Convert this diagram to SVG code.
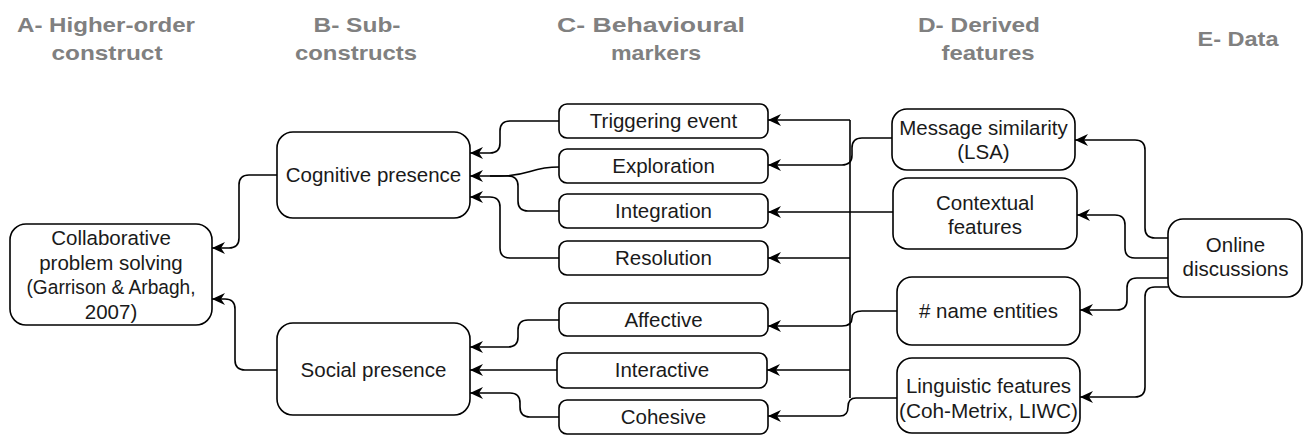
<svg xmlns="http://www.w3.org/2000/svg" width="1304" height="435" viewBox="0 0 1304 435">
<style>
.bg{fill:#ffffff}
.box{fill:#ffffff;stroke:#000000;stroke-width:1.6}
.t{font-family:"Liberation Sans",Arial,sans-serif;font-size:20.5px;fill:#1a1a1a;text-anchor:middle}
.h{font-family:"Liberation Sans",Arial,sans-serif;font-size:21px;font-weight:bold;fill:#808080;text-anchor:middle}
.c{fill:none;stroke:#000000;stroke-width:1.6}
.a{marker-end:url(#arr)}
</style>
<defs>
<marker id="arr" markerUnits="userSpaceOnUse" markerWidth="16" markerHeight="14" refX="13" refY="6" orient="auto">
<path d="M0,0 L13,6 L0,12 L4,6 Z" fill="#000000"/>
</marker>
</defs>
<rect class="bg" x="0" y="0" width="1304" height="435"/>
<g id="headers">
<text class="h" x="106" y="32" textLength="178" lengthAdjust="spacingAndGlyphs">A- Higher-order</text>
<text class="h" x="107" y="60" textLength="111" lengthAdjust="spacingAndGlyphs">construct</text>
<text class="h" x="357" y="32" textLength="87" lengthAdjust="spacingAndGlyphs">B- Sub-</text>
<text class="h" x="356" y="60" textLength="122" lengthAdjust="spacingAndGlyphs">constructs</text>
<text class="h" x="651" y="32" textLength="188" lengthAdjust="spacingAndGlyphs">C-  Behavioural</text>
<text class="h" x="656" y="60" textLength="90" lengthAdjust="spacingAndGlyphs">markers</text>
<text class="h" x="979" y="32" textLength="122" lengthAdjust="spacingAndGlyphs">D- Derived</text>
<text class="h" x="988" y="60" textLength="93" lengthAdjust="spacingAndGlyphs">features</text>
<text class="h" x="1238" y="46" textLength="81" lengthAdjust="spacingAndGlyphs">E- Data</text>
</g>
<g id="connectors">
<path class="c a" d="M277,175 H249 Q239,175 239,185 V238 Q239,248 229,248 H212"/>
<path class="c a" d="M277,370 H245 Q235,370 235,360 V309 Q235,299 225,299 H212"/>
<path class="c a" d="M559,121 H510 Q500,121 500,131 V143 Q500,153 490,153 H470"/>
<path class="c a" d="M559,167 C530,167 530,176 500,176 H470"/>
<path class="c" d="M559,211 H528 Q518,211 518,201 V186 Q518,176 508,176 H490"/>
<path class="c a" d="M559,258 H510 Q500,258 500,248 V207 Q500,197 490,197 H470"/>
<path class="c a" d="M559,320 H528 Q518,320 518,330 V337 Q518,347 508,347 H470"/>
<path class="c a" d="M557,370 H470"/>
<path class="c a" d="M559,417 H530 Q520,417 520,407 V403 Q520,393 510,393 H470"/>
<path class="c" d="M850,120 V398"/>
<path class="c a" d="M850,120 H768"/>
<path class="c a" d="M850,258 H768"/>
<path class="c a" d="M850,370 H767"/>
<path class="c a" d="M893,138 H862 Q852,138 852,148 V155 Q852,165 842,165 H768"/>
<path class="c a" d="M893,212 H768"/>
<path class="c a" d="M897,311 H862 Q852,311 852,318 Q852,326 842,326 H768"/>
<path class="c a" d="M897,398 H856 Q848,398 848,407 Q848,416 840,416 H768"/>
<path class="c a" d="M1168,238 H1155 Q1145,238 1145,228 V150 Q1145,140 1135,140 H1075"/>
<path class="c a" d="M1168,258 H1135 Q1125,258 1125,248 V225 Q1125,215 1115,215 H1077"/>
<path class="c a" d="M1168,278 H1137 Q1127,278 1127,288 V300 Q1127,310 1117,310 H1080"/>
<path class="c a" d="M1168,287 H1155 Q1145,287 1145,297 V387 Q1145,397 1135,397 H1080"/>
</g>
<g id="collab">
<rect class="box" x="10" y="224" width="202" height="101" rx="16"/>
<text class="t" x="111" y="245">Collaborative</text>
<text class="t" x="111" y="270">problem solving</text>
<text class="t" x="111" y="294" textLength="169" lengthAdjust="spacingAndGlyphs">(Garrison &amp; Arbagh,</text>
<text class="t" x="111" y="319">2007)</text>
</g>
<g id="cognitive">
<rect class="box" x="277" y="132" width="193" height="86" rx="16"/>
<text class="t" x="373.5" y="182">Cognitive presence</text>
</g>
<g id="social">
<rect class="box" x="277" y="323" width="193" height="92" rx="16"/>
<text class="t" x="373.5" y="377">Social presence</text>
</g>
<g id="triggering">
<rect class="box" x="559" y="104" width="209" height="34" rx="8"/>
<text class="t" x="663.5" y="128">Triggering event</text>
</g>
<g id="exploration">
<rect class="box" x="559" y="149" width="209" height="34" rx="8"/>
<text class="t" x="663.5" y="173">Exploration</text>
</g>
<g id="integration">
<rect class="box" x="559" y="194" width="209" height="34" rx="8"/>
<text class="t" x="663.5" y="218">Integration</text>
</g>
<g id="resolution">
<rect class="box" x="559" y="241" width="209" height="34" rx="8"/>
<text class="t" x="663.5" y="265">Resolution</text>
</g>
<g id="affective">
<rect class="box" x="559" y="303" width="209" height="33" rx="8"/>
<text class="t" x="663.5" y="327">Affective</text>
</g>
<g id="interactive">
<rect class="box" x="557" y="353" width="210" height="35" rx="8"/>
<text class="t" x="662" y="377">Interactive</text>
</g>
<g id="cohesive">
<rect class="box" x="559" y="400" width="209" height="34" rx="8"/>
<text class="t" x="663.5" y="424">Cohesive</text>
</g>
<g id="message">
<rect class="box" x="892" y="109" width="183" height="61" rx="15"/>
<text class="t" x="983.5" y="135">Message similarity</text>
<text class="t" x="983.5" y="159">(LSA)</text>
</g>
<g id="contextual">
<rect class="box" x="893" y="178" width="184" height="71" rx="15"/>
<text class="t" x="985" y="210">Contextual</text>
<text class="t" x="985" y="234">features</text>
</g>
<g id="names">
<rect class="box" x="897" y="277" width="183" height="68" rx="15"/>
<text class="t" x="988.5" y="318"># name entities</text>
</g>
<g id="linguistic">
<rect class="box" x="897" y="358" width="183" height="75" rx="15"/>
<text class="t" x="988.5" y="393">Linguistic features</text>
<text class="t" x="988.5" y="418" textLength="179" lengthAdjust="spacingAndGlyphs">(Coh-Metrix, LIWC)</text>
</g>
<g id="online">
<rect class="box" x="1168" y="219" width="134" height="78" rx="15"/>
<text class="t" x="1235.5" y="252">Online</text>
<text class="t" x="1235.5" y="276">discussions</text>
</g>
</svg>
